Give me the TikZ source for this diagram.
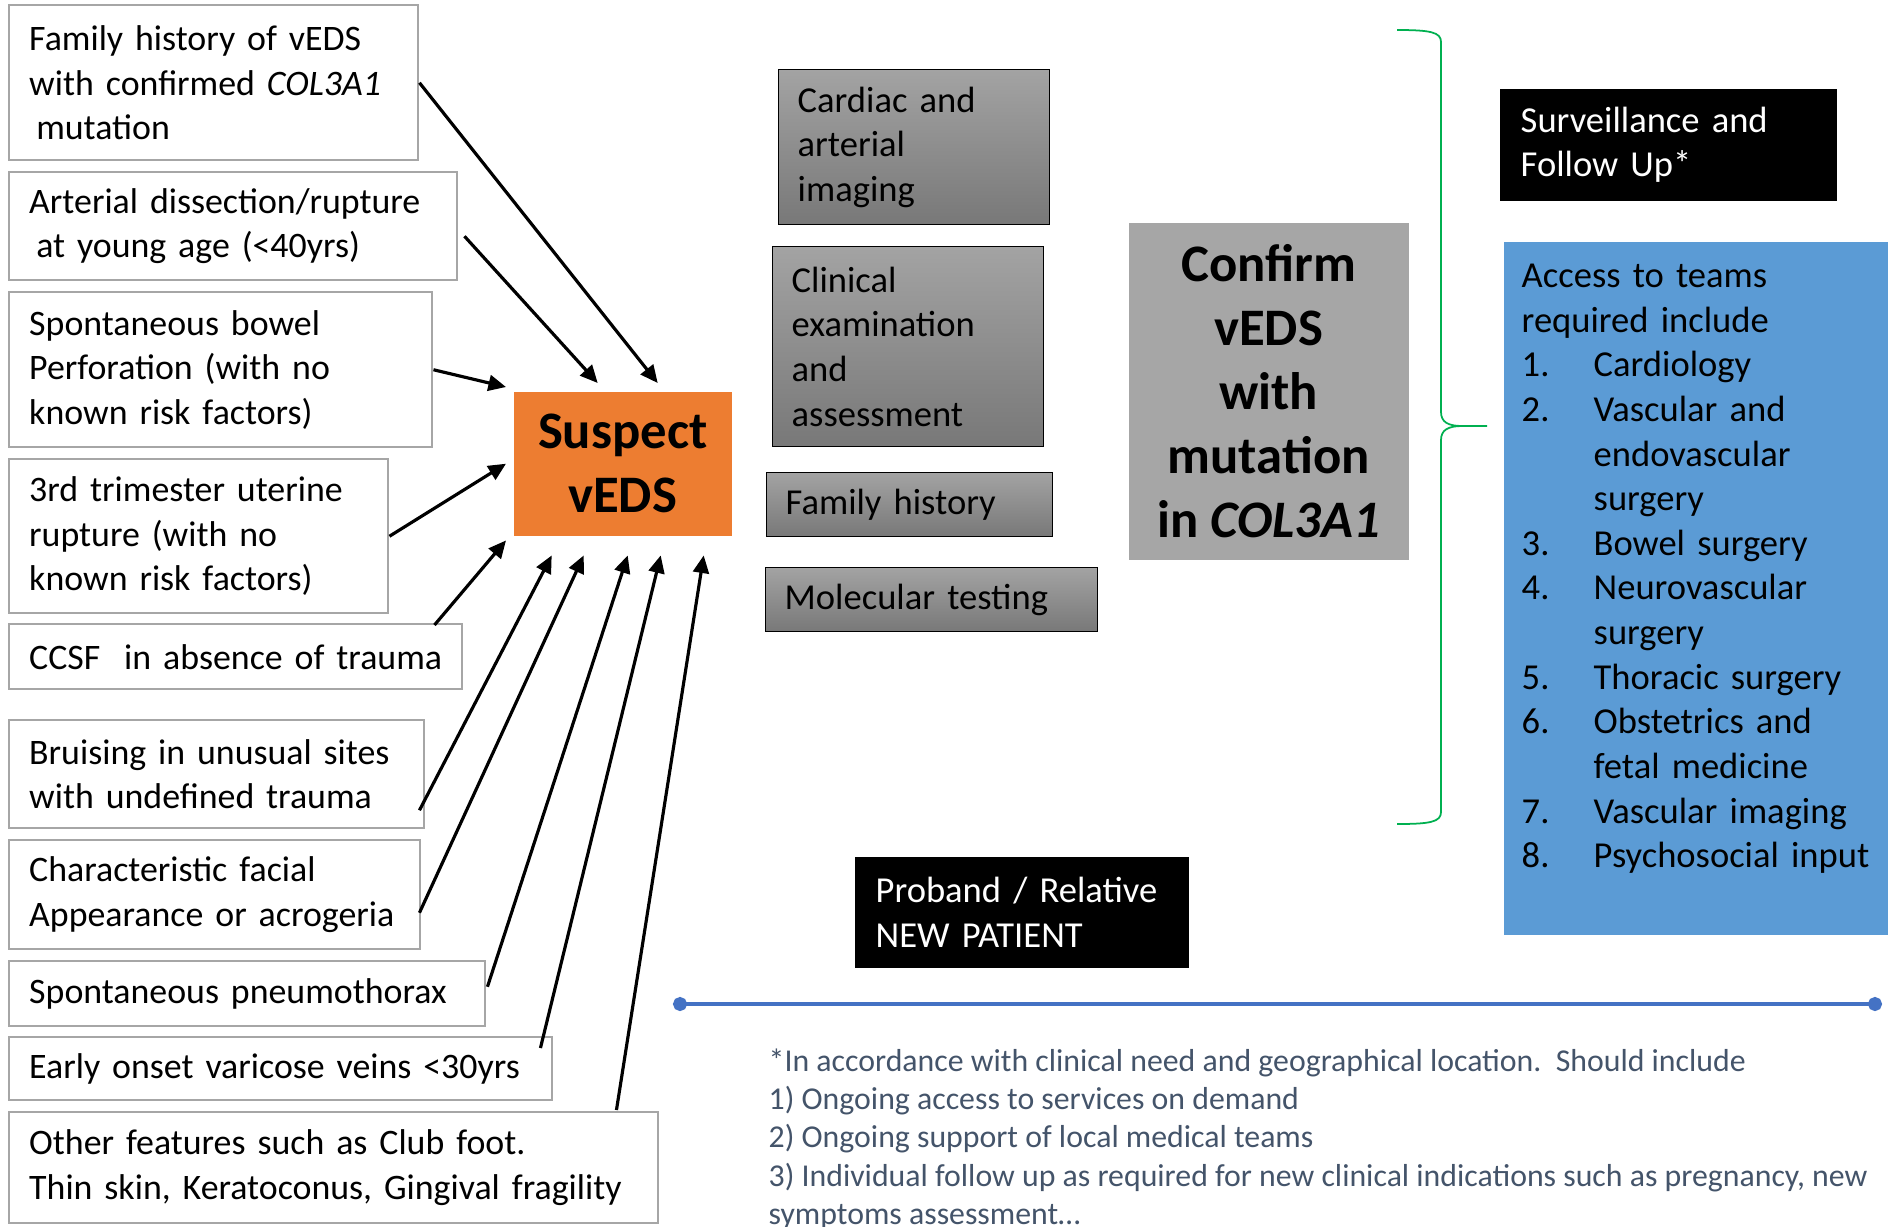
\documentclass[tikz,border=0pt]{standalone}
\usepackage{fontspec}
\setmainfont{Carlito}
\usepackage{tikz}
\usetikzlibrary{arrows.meta,positioning}
\hyphenpenalty=10000
\definecolor{signgray}{HTML}{A6A6A6}
\definecolor{testtop}{HTML}{A3A3A3}
\definecolor{testbot}{HTML}{787878}
\definecolor{suspectorange}{HTML}{ED7D31}
\definecolor{confirmgray}{HTML}{A6A6A6}
\definecolor{teamblue}{HTML}{5B9BD5}
\definecolor{ruleblue}{HTML}{4472C4}
\definecolor{bracegreen}{HTML}{00B050}
\definecolor{notegray}{HTML}{44546A}
\newcommand{\tnum}[1]{\makebox[0.72cm][l]{#1}}
\newcommand{\tgap}{\hspace*{0.72cm}}
\tikzset{
  sign/.style={rectangle, draw=signgray, line width=0.7pt, fill=white, anchor=north west, align=left, inner xsep=0.2cm, inner ysep=0pt, font=\fontsize{10.2}{12.7}\selectfont},
  test/.style={rectangle, draw=black, line width=0.4pt, top color=testtop, bottom color=testbot, anchor=north west, align=left, inner xsep=0.19cm, inner ysep=0pt, font=\fontsize{10.4}{12.7}\selectfont},
  suspect/.style={rectangle, fill=suspectorange, anchor=north west, align=center, inner sep=0pt, font=\bfseries\fontsize{15}{18.2}\selectfont},
  confirm/.style={rectangle, fill=confirmgray, anchor=north west, align=center, inner sep=0pt, font=\bfseries\fontsize{15}{18.2}\selectfont},
  blackbox/.style={rectangle, fill=black, text=white, anchor=north west, align=left, inner xsep=0.21cm, inner ysep=0pt, font=\fontsize{10.4}{12.7}\selectfont},
  teams/.style={rectangle, fill=teamblue, anchor=north west, align=left, inner xsep=0.18cm, inner ysep=0pt, font=\fontsize{10.4}{12.7}\selectfont},
  note/.style={anchor=north west, align=left, inner sep=0pt, text=notegray, font=\fontsize{9.05}{10.9}\selectfont},
  feed/.style={line width=0.9pt, -{Triangle[length=5pt,width=4.5pt]}},
  brace/.style={draw=bracegreen, line width=0.5pt},
  divider/.style={draw=ruleblue, line width=0.9pt, {Circle[length=4pt]}-{Circle[length=4pt]}}
}

\begin{document}
\begin{tikzpicture}
  \useasboundingbox[fill=white] (0,0) rectangle (18.88,-12.26);

  % clinical features on the left
  \node[sign, text width=3.69cm, minimum height=1.55cm] (fam) at (0.08,-0.04)
    {Family history of vEDS\\ with confirmed \textit{COL3A1}\\ \hspace*{2pt}mutation};
  \node[sign, text width=4.08cm, minimum height=1.08cm] (art) at (0.08,-1.71)
    {Arterial dissection/rupture\\ \hspace*{2pt}at young age (<40yrs)};
  \node[sign, text width=3.83cm, minimum height=1.55cm] (bowel) at (0.08,-2.91)
    {Spontaneous bowel\\ Perforation (with no\\ known risk factors)};
  \node[sign, text width=3.39cm, minimum height=1.54cm] (uter) at (0.08,-4.58)
    {3rd trimester uterine\\ rupture (with no\\ known risk factors)};
  \node[sign, text width=4.13cm, minimum height=0.65cm] (ccsf) at (0.08,-6.23)
    {CCSF\ \ in absence of trauma};
  \node[sign, text width=3.75cm, minimum height=1.08cm] (bruise) at (0.08,-7.19)
    {Bruising in unusual sites\\ with undefined trauma};
  \node[sign, text width=3.71cm, minimum height=1.09cm] (face) at (0.08,-8.39)
    {Characteristic facial\\ Appearance or acrogeria};
  \node[sign, text width=4.36cm, minimum height=0.65cm] (pneumo) at (0.08,-9.60)
    {Spontaneous pneumothorax};
  \node[sign, text width=5.03cm, minimum height=0.63cm] (veins) at (0.08,-10.36)
    {Early onset varicose veins <30yrs};
  \node[sign, text width=6.09cm, minimum height=1.11cm] (other) at (0.08,-11.11)
    {Other features such as Club foot.\\ Thin skin, Keratoconus, Gingival fragility};

  % suspect box
  \node[suspect, minimum width=2.18cm, minimum height=1.44cm] (sus) at (5.13,-3.91)
    {Suspect\\ vEDS};

  % work-up boxes
  \node[test, text width=2.33cm, minimum height=1.55cm] (cardiac) at (7.78,-0.69)
    {Cardiac and\\ arterial\\ imaging};
  \node[test, text width=2.33cm, minimum height=2.00cm] (exam) at (7.72,-2.46)
    {Clinical\\ examination\\ and\\ assessment};
  \node[test, text width=2.48cm, minimum height=0.64cm] (fhist) at (7.66,-4.72)
    {Family history};
  \node[test, text width=2.94cm, minimum height=0.64cm] (molec) at (7.65,-5.67)
    {Molecular testing};

  % confirmation
  \node[confirm, minimum width=2.80cm, minimum height=3.37cm] (conf) at (11.28,-2.22)
    {Confirm\\ vEDS\\ with\\ mutation\\ in \textit{COL3A1}};

  % follow up
  \node[blackbox, text width=2.95cm, minimum height=1.12cm] (surv) at (14.99,-0.88)
    {Surveillance and\\ Follow Up*};
  \node[teams, text width=3.70cm, minimum height=6.93cm] (teams) at (15.03,-2.41)
    {Access to teams\\ required include\\
     \tnum{1.}Cardiology\\
     \tnum{2.}Vascular and\\ \tgap endovascular\\ \tgap surgery\\
     \tnum{3.}Bowel surgery\\
     \tnum{4.}Neurovascular\\ \tgap surgery\\
     \tnum{5.}Thoracic surgery\\
     \tnum{6.}Obstetrics and\\ \tgap fetal medicine\\
     \tnum{7.}Vascular imaging\\
     \tnum{8.}Psychosocial input\\ \rule{0pt}{0.32cm}};

  \node[blackbox, text width=2.92cm, minimum height=1.11cm] (proband) at (8.54,-8.56)
    {Proband / Relative\\ NEW PATIENT};

  % brace
  \draw[brace] (13.97,-0.30) .. controls (14.30,-0.30) and (14.41,-0.32) .. (14.41,-0.42)
    -- (14.41,-4.12) .. controls (14.41,-4.22) and (14.48,-4.26) .. (14.62,-4.26) -- (14.87,-4.26);
  \draw[brace] (13.97,-8.24) .. controls (14.30,-8.24) and (14.41,-8.22) .. (14.41,-8.12)
    -- (14.41,-4.40) .. controls (14.41,-4.30) and (14.48,-4.26) .. (14.62,-4.26);

  % arrows into suspect
  \draw[feed] (fam.east) -- ([shift={(0.35,0.08)}]sus.north);
  \draw[feed] ([shift={(0.06,-0.10)}]art.east) -- ([shift={(-0.25,0.08)}]sus.north);
  \draw[feed] (bowel.east) -- ([shift={(-0.07,0.04)}]sus.north west);
  \draw[feed] (uter.east) -- ([xshift=-0.07cm]sus.west);
  \draw[feed] ([shift={(-0.29,-0.02)}]ccsf.north east) -- ([shift={(-0.07,-0.04)}]sus.south west);
  \draw[feed] ([shift={(-0.06,-0.36)}]bruise.east) -- ([shift={(-0.71,-0.19)}]sus.south);
  \draw[feed] ([shift={(-0.02,-0.18)}]face.east) -- ([shift={(-0.39,-0.19)}]sus.south);
  \draw[feed] ([shift={(0.01,0.07)}]pneumo.east) -- ([shift={(0.05,-0.19)}]sus.south);
  \draw[feed] ([shift={(-0.13,-0.12)}]veins.north east) -- ([shift={(0.38,-0.19)}]sus.south);
  \draw[feed] ([shift={(-0.43,0.01)}]other.north east) -- ([shift={(0.81,-0.19)}]sus.south);

  % divider and footnote
  \coordinate (ruleL) at (6.73,-10.04);
  \coordinate (ruleR) at (18.82,-10.04);
  \draw[divider] (ruleL) -- (ruleR);
  \node[note] (foot) at (7.68,-10.48)
    {*In accordance with clinical need and geographical location.\ \ Should include\\
     1) Ongoing access to services on demand\\
     2) Ongoing support of local medical teams\\
     3) Individual follow up as required for new clinical indications such as pregnancy, new\\
     symptoms assessment…};
\end{tikzpicture}
\end{document}
